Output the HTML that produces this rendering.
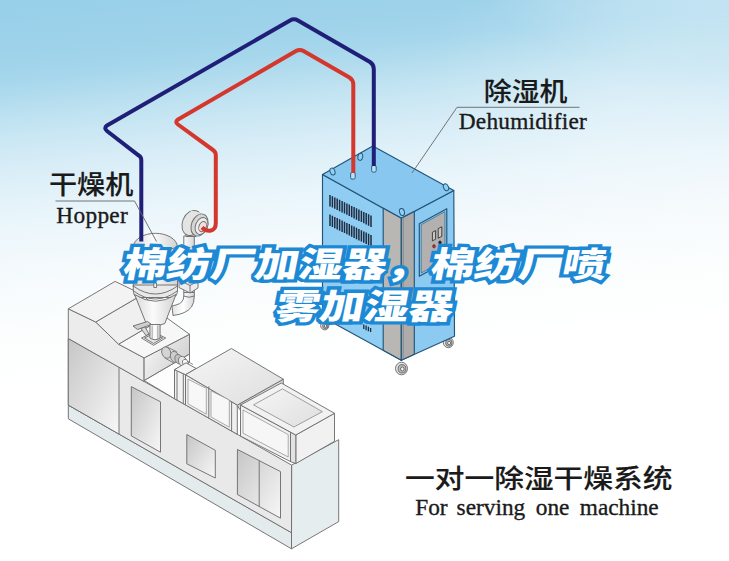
<!DOCTYPE html>
<html lang="zh-CN">
<head>
<meta charset="utf-8">
<title>棉纺厂加湿器，棉纺厂喷雾加湿器</title>
<style>
html,body{margin:0;padding:0;background:#fff;}
body{width:729px;height:561px;overflow:hidden;position:relative;}
svg{display:block;position:absolute;left:0;top:0;}
.cjk{font-family:"Liberation Sans","Noto Sans CJK SC",sans-serif;fill:#1a1a1a;}
.lat{font-family:"Liberation Serif","Noto Serif CJK SC",serif;fill:#1a1a1a;}
.ttl{font-family:"Liberation Sans","Noto Sans CJK SC",sans-serif;font-weight:900;font-size:35px;}
</style>
</head>
<body>
<svg width="729" height="561" viewBox="0 0 729 561">
<defs>
<linearGradient id="bgv" gradientUnits="userSpaceOnUse" x1="0" y1="0" x2="39.6" y2="396.0">
<stop offset="0.000" stop-color="#98d0e9"/>
<stop offset="0.125" stop-color="#9dd2ea"/>
<stop offset="0.200" stop-color="#a5d6ec"/>
<stop offset="0.250" stop-color="#b2dcee"/>
<stop offset="0.300" stop-color="#bfe2f1"/>
<stop offset="0.350" stop-color="#cae7f4"/>
<stop offset="0.400" stop-color="#d4ebf6"/>
<stop offset="0.450" stop-color="#dceff8"/>
<stop offset="0.500" stop-color="#e3f2f9"/>
<stop offset="0.562" stop-color="#eaf6fb"/>
<stop offset="0.637" stop-color="#f1f8fc"/>
<stop offset="0.725" stop-color="#f7fbfd"/>
<stop offset="0.850" stop-color="#fcfefe"/>
<stop offset="1.000" stop-color="#ffffff"/>
</linearGradient>
<radialGradient id="bgh" gradientUnits="userSpaceOnUse" cx="0" cy="0" r="1" gradientTransform="translate(740 -20) scale(260 95)">
<stop offset="0" stop-color="#fff" stop-opacity="0.4"/>
<stop offset="1" stop-color="#fff" stop-opacity="0"/>
</radialGradient>
<radialGradient id="bgm" gradientUnits="userSpaceOnUse" cx="620" cy="90" r="190">
<stop offset="0" stop-color="#fff" stop-opacity="0.18"/>
<stop offset="1" stop-color="#fff" stop-opacity="0"/>
</radialGradient>
</defs>
<!-- BACKGROUND -->
<rect x="0" y="0" width="729" height="561" fill="url(#bgv)"/>
<rect x="400" y="0" width="329" height="120" fill="url(#bgh)"/>
<rect x="400" y="0" width="329" height="300" fill="url(#bgm)"/>

<!-- MACHINE -->
<g id="machine">
<defs>
<linearGradient id="gA" x1="0" y1="0" x2="1" y2="1"><stop offset="0" stop-color="#c6c6c6"/><stop offset="1" stop-color="#f7f7f7"/></linearGradient>
<linearGradient id="gB" x1="0" y1="0" x2="1" y2="0.6"><stop offset="0" stop-color="#fbfbfb"/><stop offset="1" stop-color="#cfcfcf"/></linearGradient>
<linearGradient id="gC" x1="0" y1="0" x2="1" y2="1"><stop offset="0" stop-color="#f6f6f6"/><stop offset="1" stop-color="#dedede"/></linearGradient>
<linearGradient id="gD" x1="0" y1="0" x2="1" y2="0"><stop offset="0" stop-color="#d4d4d4"/><stop offset="0.5" stop-color="#f4f4f4"/><stop offset="1" stop-color="#d0d0d0"/></linearGradient>
</defs>
<polygon points="68.3,405.1 291.5,532.7 291.5,548.8 68.3,418.8" fill="#e3ebed" stroke="#707070" stroke-width="0.95" stroke-linejoin="round"/>
<polygon points="291.6,465.1 338.7,439.7 338.7,521.6 291.5,548.8" fill="#e6edef" stroke="#707070" stroke-width="0.95" stroke-linejoin="round"/>
<polygon points="68.3,338.5 291.6,465.1 291.5,532.7 68.3,405.1" fill="#e9e9e9" stroke="#707070" stroke-width="0.95" stroke-linejoin="round"/>
<polygon points="68.3,338.5 119.0,367.2 119.0,434.1 68.3,405.1" fill="url(#gA)" stroke="#707070" stroke-width="0.95" stroke-linejoin="round"/>
<polygon points="131.3,386.6 160.5,401.8 160.5,452.2 131.3,435.9" fill="url(#gA)" stroke="#707070" stroke-width="0.95" stroke-linejoin="round"/>
<polygon points="186.8,434.5 215.3,450.3 215.3,478.0 186.8,463.8" fill="url(#gA)" stroke="#707070" stroke-width="0.95" stroke-linejoin="round"/>
<polygon points="237.4,449.4 280.5,471.6 280.5,518.2 237.4,494.5" fill="url(#gA)" stroke="#707070" stroke-width="0.95" stroke-linejoin="round"/>
<polyline points="259.2,460.6 259.2,506.5" stroke="#707070" stroke-width="0.95" fill="none"/>
<polygon points="144.1,380.5 189.5,354.0 189.5,362.0 174.5,369.7 174.5,398.7" fill="#fdfdfd" stroke="#707070" stroke-width="0.95" stroke-linejoin="round"/>
<polygon points="68.3,308.8 95.7,322.0 118.5,344.2 144.1,357.9 144.1,381.5 68.3,338.5" fill="#ececec" stroke="#707070" stroke-width="0.95" stroke-linejoin="round"/>
<polygon points="144.1,357.9 189.5,334.3 189.5,354.0 144.1,380.5" fill="url(#gB)" stroke="#707070" stroke-width="0.95" stroke-linejoin="round"/>
<polygon points="118.5,344.2 165.3,316.8 189.5,334.3 144.1,357.9" fill="#f7f7f7" stroke="#707070" stroke-width="0.95" stroke-linejoin="round"/>
<polygon points="95.7,322.0 142.5,294.6 165.3,316.8 118.5,344.2" fill="#f0f0f0" stroke="#707070" stroke-width="0.95" stroke-linejoin="round"/>
<polygon points="68.3,308.8 115.1,281.4 142.5,294.6 95.7,322.0" fill="#f3f3f3" stroke="#707070" stroke-width="0.95" stroke-linejoin="round"/>
<g stroke="#707070" stroke-width="0.8"><path d="M167.5 347.2 L176.5 351.6 L173.2 362.6 L164.8 358 Z" fill="#dedede"/><ellipse cx="166.3" cy="352.6" rx="4.4" ry="5.9" transform="rotate(-22 166.3 352.6)" fill="#d4d4d4"/><ellipse cx="174.8" cy="357" rx="4.2" ry="5.8" transform="rotate(-22 174.8 357)" fill="#cdcdcd"/><ellipse cx="178.6" cy="359.2" rx="3.6" ry="4.9" transform="rotate(-22 178.6 359.2)" fill="#c2c2c2"/><ellipse cx="182.6" cy="361.4" rx="4" ry="5.2" transform="rotate(-22 182.6 361.4)" fill="#e6e6e6"/><ellipse cx="185.4" cy="362.8" rx="2.8" ry="3.7" transform="rotate(-22 185.4 362.8)" fill="#fafafa"/><path d="M187 361 L193 364.5 M186 366 L191 368.6" fill="none"/></g>
<polygon points="174.5,369.7 185.5,374.7 185.5,404.9 174.5,398.7" fill="#f1f1f1" stroke="#707070" stroke-width="0.95" stroke-linejoin="round"/>
<polyline points="177.0,371.5 177.0,400.1" stroke="#707070" stroke-width="0.95" fill="none"/>
<polyline points="183.3,374.0 183.3,403.7" stroke="#707070" stroke-width="0.95" fill="none"/>
<polygon points="174.5,369.7 186.0,362.8 196.2,368.5 185.5,374.7" fill="#f6f6f6" stroke="#707070" stroke-width="0.95" stroke-linejoin="round"/>
<polygon points="237.3,405.1 283.3,379.2 283.3,384.0 239.6,409.5" fill="#d9d9d9" stroke="#707070" stroke-width="0.95" stroke-linejoin="round"/>
<polygon points="185.5,374.7 237.3,405.1 237.3,434.3 185.5,404.9" fill="#efefef" stroke="#707070" stroke-width="0.95" stroke-linejoin="round"/>
<polygon points="185.5,374.7 231.4,348.5 283.3,379.2 237.3,405.1" fill="url(#gC)" stroke="#707070" stroke-width="0.95" stroke-linejoin="round"/>
<polyline points="208.8,386.4 208.8,418.1" stroke="#707070" stroke-width="0.95" fill="none"/>
<polyline points="231.6,402.0 231.6,431.0" stroke="#707070" stroke-width="0.95" fill="none"/>
<polygon points="188.0,379.2 206.3,388.4 206.3,414.2 188.0,403.8" fill="#f7f7f7" stroke="#8a8a8a" stroke-width="0.7"/>
<polygon points="211.0,390.8 229.3,400.0 229.3,427.2 211.0,416.9" fill="#f7f7f7" stroke="#8a8a8a" stroke-width="0.7"/>
<polygon points="295.8,435.0 334.5,413.3 334.5,441.3 295.8,463.6" fill="#f1f1f1" stroke="#707070" stroke-width="0.95" stroke-linejoin="round"/>
<polygon points="240.5,405.0 290.5,432.2 290.5,461.6 240.5,436.1" fill="#f0f0f0" stroke="#707070" stroke-width="0.95" stroke-linejoin="round"/>
<polygon points="290.5,432.2 295.8,435.0 295.8,463.6 290.5,461.6" fill="#e2e2e2" stroke="#707070" stroke-width="0.95" stroke-linejoin="round"/>
<polygon points="240.5,405.0 281.3,383.0 334.5,413.3 295.8,435.0" fill="#f2f2f2" stroke="#707070" stroke-width="0.95" stroke-linejoin="round"/>
<polygon points="253.5,404.9 282.5,388.9 322.4,411.7 293.9,427.0" fill="url(#gC)" stroke="#8a8a8a" stroke-width="0.8"/>
<polygon points="243.0,410.0 288.2,434.6 288.2,457.0 243.0,433.2" fill="#f6f6f6" stroke="#8a8a8a" stroke-width="0.7"/>
</g><!--/machine-->

<!-- DEHUMIDIFIER -->
<g id="dehum">
<g stroke="#555" stroke-width="0.8"><ellipse cx="324.8" cy="325.5" rx="4.2" ry="4.4" fill="#e6e6e6"/><ellipse cx="325.3" cy="325.8" rx="2.7" ry="2.9" fill="#bbb"/><ellipse cx="325.6" cy="326.0" rx="1.3" ry="1.4" fill="#f4f4f4"/></g>
<g stroke="#555" stroke-width="0.8"><ellipse cx="448.3" cy="342.5" rx="5.0" ry="5.2" fill="#e6e6e6"/><ellipse cx="448.8" cy="342.8" rx="3.2" ry="3.5" fill="#bbb"/><ellipse cx="449.1" cy="343.0" rx="1.5" ry="1.7" fill="#f4f4f4"/></g>
<g stroke="#555" stroke-width="0.8"><ellipse cx="401.5" cy="368.5" rx="6.0" ry="6.3" fill="#e6e6e6"/><ellipse cx="402.0" cy="368.8" rx="3.9" ry="4.2" fill="#bbb"/><ellipse cx="402.3" cy="369.0" rx="1.8" ry="2.0" fill="#f4f4f4"/></g>
<polygon points="322.5,174.5 401.3,218.3 401.3,360.2 322.5,317.0" fill="#90cdf3" stroke="#225579" stroke-width="1.15" stroke-linejoin="round"/>
<polygon points="401.3,218.3 453.8,190.5 454.5,336.2 401.3,360.2" fill="#8ccaf2" stroke="#225579" stroke-width="1.15" stroke-linejoin="round"/>
<polygon points="322.5,174.5 372.8,146.0 453.8,190.5 401.3,218.3" fill="#88c8f0" stroke="#225579" stroke-width="1.15" stroke-linejoin="round"/>
<polygon points="383.2,208.2 401.3,218.3 401.3,360.2 383.2,350.3" fill="#b9b7b4" stroke="#225579" stroke-width="1.15" stroke-linejoin="round"/>
<polygon points="401.3,218.3 414.3,211.4 414.3,354.3 401.3,360.2" fill="#aeacaa" stroke="#225579" stroke-width="1.15" stroke-linejoin="round"/>
<path d="M403.2 217.3 L403.2 359.3" stroke="#6d7f8a" stroke-width="0.7" fill="none"/>
<polygon points="419.3,223.7 446.8,208.7 446.8,261.2 419.3,276.2" fill="#8ccaf2" stroke="#225579" stroke-width="1.15" stroke-linejoin="round"/>
<polygon points="421.2,224.7 444.9,211.7 444.9,260.0 421.2,273.0" fill="#b3b1af" stroke="#3f6f92" stroke-width="0.8"/>
<polygon points="432.4,232.3 435.6,230.6 435.6,239.2 432.4,240.9" fill="#c9c7c4" stroke="#333" stroke-width="0.9"/>
<polygon points="438.2,228.6 441.8,226.8 441.8,236.4 438.2,238.2" fill="#c9c7c4" stroke="#333" stroke-width="0.9"/>
<ellipse cx="434" cy="246.3" rx="1.4" ry="1.8" fill="#c0262a" stroke="#333" stroke-width="0.5"/>
<ellipse cx="440" cy="242.6" rx="1.4" ry="1.8" fill="#223" stroke="#333" stroke-width="0.5"/>
<path d="M330.0 195.0 v11.4 M332.4 196.2 v11.4 M334.8 197.4 v11.4 M337.2 198.6 v11.4 M339.6 199.8 v11.4 M342.1 201.0 v11.4 M344.5 202.2 v11.4 M346.9 203.4 v11.4 M349.3 204.6 v11.4 M351.7 205.9 v11.4 M354.1 207.1 v11.4 M356.5 208.3 v11.4 M358.9 209.5 v11.4 M361.4 210.7 v11.4 M363.8 211.9 v11.4 M366.2 213.1 v11.4 M368.6 214.3 v11.4 M371.0 215.5 v11.4 M330.0 214.5 v11.4 M332.4 215.7 v11.4 M334.8 216.9 v11.4 M337.2 218.1 v11.4 M339.6 219.3 v11.4 M342.1 220.5 v11.4 M344.5 221.7 v11.4 M346.9 222.9 v11.4 M349.3 224.1 v11.4 M351.7 225.4 v11.4 M354.1 226.6 v11.4 M356.5 227.8 v11.4 M358.9 229.0 v11.4 M361.4 230.2 v11.4 M363.8 231.4 v11.4 M366.2 232.6 v11.4 M368.6 233.8 v11.4 M371.0 235.0 v11.4" stroke="#1f2c40" stroke-width="1.5" fill="none"/>
<ellipse cx="332.5" cy="171.5" rx="2.4" ry="3.6" transform="rotate(-20 332.5 171.5)" fill="#93cff3" stroke="#24587d" stroke-width="1"/>
<ellipse cx="360.3" cy="156.8" rx="2.4" ry="3.6" transform="rotate(10 360.3 156.8)" fill="#93cff3" stroke="#24587d" stroke-width="1"/>
<ellipse cx="446.0" cy="187.3" rx="2.4" ry="3.6" transform="rotate(-25 446.0 187.3)" fill="#93cff3" stroke="#24587d" stroke-width="1"/>
<ellipse cx="402.0" cy="212.0" rx="2.4" ry="3.6" transform="rotate(-15 402.0 212.0)" fill="#93cff3" stroke="#24587d" stroke-width="1"/>
<rect x="350.6" y="172.5" width="4.6" height="6.6" rx="1.5" fill="#b9dff6" stroke="#225579" stroke-width="0.9"/>
<rect x="371.6" y="165.5" width="4.6" height="6.6" rx="1.5" fill="#b9dff6" stroke="#225579" stroke-width="0.9"/>
<path d="M363.8 324.5 v4.6 M366.1 325.6 v4.6 M368.4 326.8 v4.4 M370.6 328 v4" stroke="#1f2c40" stroke-width="1.3" fill="none"/>
</g>

<!-- HOPPER -->
<g id="hopper">
<defs>
<linearGradient id="hC" x1="0" y1="0" x2="1" y2="0"><stop offset="0" stop-color="#dadada"/><stop offset="0.45" stop-color="#fbfbfb"/><stop offset="1" stop-color="#d2d2d2"/></linearGradient>
<linearGradient id="hP" x1="0" y1="0" x2="1" y2="0"><stop offset="0" stop-color="#e3e3e3"/><stop offset="0.5" stop-color="#ffffff"/><stop offset="1" stop-color="#d6d6d6"/></linearGradient>
</defs>
<path d="M183.8 236 L183.8 296 Q183.8 303 176 305 L172 306 L173 315.5 Q186 314 191.5 307 Q194.3 303 194.3 296 L194.3 236 Z" fill="url(#hP)" stroke="#707070" stroke-width="0.95" stroke-linejoin="round"/>
<path d="M183.8 292.5 L194.3 292.5 M183.8 296 Q189 298.5 194.3 296" fill="none" stroke="#707070" stroke-width="0.95" stroke-linejoin="round"/>
<path d="M179 280 L190 285.5 L198 281 L198 288 L190 293 L179 287.5 Z" fill="#ececec" stroke="#707070" stroke-width="0.95" stroke-linejoin="round"/>
<path d="M190 285.5 L190 293" fill="none" stroke="#707070" stroke-width="0.95" stroke-linejoin="round"/>
<g stroke="#707070" stroke-width="0.95" stroke-linejoin="round"><path d="M186 236.5 L186 228 L196 228 L196 236.5 Z" fill="#e9e9e9"/><ellipse cx="192" cy="223" rx="9.5" ry="13" transform="rotate(22 192 223)" fill="#e4e4e4"/><path d="M190.5 210.5 L200 212.5 L206 229 L196 236 Z" fill="#e4e4e4" stroke="none"/><ellipse cx="199.5" cy="225" rx="8" ry="11.5" transform="rotate(22 199.5 225)" fill="#d6d6d6"/><ellipse cx="201.5" cy="226" rx="6" ry="8.8" transform="rotate(22 201.5 226)" fill="#ededed"/><ellipse cx="202.6" cy="226.6" rx="3.6" ry="5.3" transform="rotate(22 202.6 226.6)" fill="#f6dede"/></g>
<path d="M133.3 247 C133.6 238.5 145 233.3 155.4 233.3 C166 233.3 177.2 238.5 177.5 247 L177.5 287 L133.3 287 Z" fill="url(#hC)" stroke="#707070" stroke-width="0.95" stroke-linejoin="round"/>
<path d="M133.3 247 Q155.4 256 177.5 247" fill="none" stroke="#707070" stroke-width="0.95" stroke-linejoin="round"/>
<path d="M133.3 285 L133.3 290 Q133.3 296 137 297.5 L173.5 297.5 Q177.5 296 177.5 290 L177.5 285 Z" fill="#e9e9e9" stroke="#707070" stroke-width="0.95" stroke-linejoin="round"/>
<path d="M133.3 286 Q155.4 302 177.5 286 M133.6 291 Q155.4 307 177.2 291" fill="none" stroke="#707070" stroke-width="0.95" stroke-linejoin="round"/>
<path d="M134.6 294.5 Q155.4 308 176 294.5 L164.8 323.5 Q155.5 327.5 146.2 323.5 Z" fill="url(#hC)" stroke="#707070" stroke-width="0.95" stroke-linejoin="round"/>
<path d="M133 326 L147.5 321.5 L151.5 324.5 L137.5 329.5 Z" fill="#cfcfcf" stroke="#707070" stroke-width="0.95" stroke-linejoin="round"/>
<path d="M141 328.5 L146 335.5 L149 334 L145 327 Z" fill="#dcdcdc" stroke="#707070" stroke-width="0.95" stroke-linejoin="round"/>
<path d="M141.5 338 L153.6 332 L165.7 338 L153.6 345.3 Z" fill="#f4f4f4" stroke="#707070" stroke-width="0.95" stroke-linejoin="round"/>
<path d="M144.5 338 L153.6 333.6 L162.7 338 L153.6 343.5 Z" fill="#e6e6e6" stroke="#707070" stroke-width="0.95" stroke-linejoin="round"/>
<path d="M149.9 324.5 L149.9 338 Q155 341.5 160.1 338 L160.1 324.5 Z" fill="url(#hP)" stroke="#707070" stroke-width="0.95" stroke-linejoin="round"/>
<path d="M152.2 325.5 L152.2 339.3 M157.8 325.5 L157.8 339.3" fill="none" stroke="#8a8a8a" stroke-width="0.7"/>
<path d="M153.8 283 L153.8 287.5 L156.6 287.5 L156.6 283" fill="#f4f4f4" stroke="#707070" stroke-width="0.95" stroke-linejoin="round"/>
</g><!--/hopper-->

<!-- PIPES -->
<g fill="none" stroke-linejoin="round" stroke-linecap="butt">
<path d="M141.3 241.5 L141.3 160 Q141.3 157 138.5 155.3 L107 131 Q103.5 128 107 125.5 L290 20.5 Q294 18.2 298 20.5 L370 62 Q373.8 64.5 373.8 69 L373.8 166" stroke="#1f1f78" stroke-width="4"/>
<path d="M202 227.5 Q206 231.5 211 230.5 Q215.8 229.5 215.8 223 L215.8 155 Q215.8 152 213 150 L178 124.5 Q174.5 121.8 178 119.5 L296 51 Q299.8 48.8 303.5 51 L349.5 77.5 Q353.3 80 353.3 84.5 L353.3 173" stroke="#d4372c" stroke-width="4"/>
</g>

<!-- LABELS -->
<g stroke="#666" stroke-width="0.9" fill="none">
<path d="M579.5 107.3 L457 107.3 L412 173"/>
<path d="M55.5 201 L134.5 201 L156.5 241.5"/>
</g>
<g font-weight="500" stroke="#1a1a1a" stroke-width="0.12">
<text class="cjk" x="483.8" y="101.4" font-size="26.5" textLength="83.7" lengthAdjust="spacingAndGlyphs">除湿机</text>
<text class="cjk" x="49" y="194.3" font-size="26.5" textLength="84.3" lengthAdjust="spacingAndGlyphs">干燥机</text>
<text class="cjk" x="405" y="488.3" font-size="26" textLength="267.5" lengthAdjust="spacingAndGlyphs">一对一除湿干燥系统</text>
</g>
<g font-size="23.3" stroke="#1a1a1a" stroke-width="0.35">
<text class="lat" x="458.8" y="129.1" textLength="128" lengthAdjust="spacing">Dehumidifier</text>
<text class="lat" x="56.3" y="222.6" textLength="71.5" lengthAdjust="spacing">Hopper</text>
<text class="lat" y="514.5"><tspan x="415.2">For</tspan> <tspan x="456.6">serving</tspan> <tspan x="535.8">one</tspan> <tspan x="579.8">machine</tspan></text>
</g>

<!-- TITLE -->
<g class="ttl" text-anchor="middle" stroke-linejoin="miter" stroke-miterlimit="1.5" stroke="#1d89d4" stroke-width="6.6" fill="#ffffff" paint-order="stroke">
<g transform="translate(362.8,276.8) skewX(-11)">
<text x="0" y="0" textLength="483.5" lengthAdjust="spacingAndGlyphs">棉纺厂加湿器，棉纺厂喷</text>
</g>
<g transform="translate(362.4,319.4) skewX(-11)">
<text x="0" y="0" textLength="178" lengthAdjust="spacingAndGlyphs">雾加湿器</text>
</g>
</g>
</svg>
</body>
</html>
